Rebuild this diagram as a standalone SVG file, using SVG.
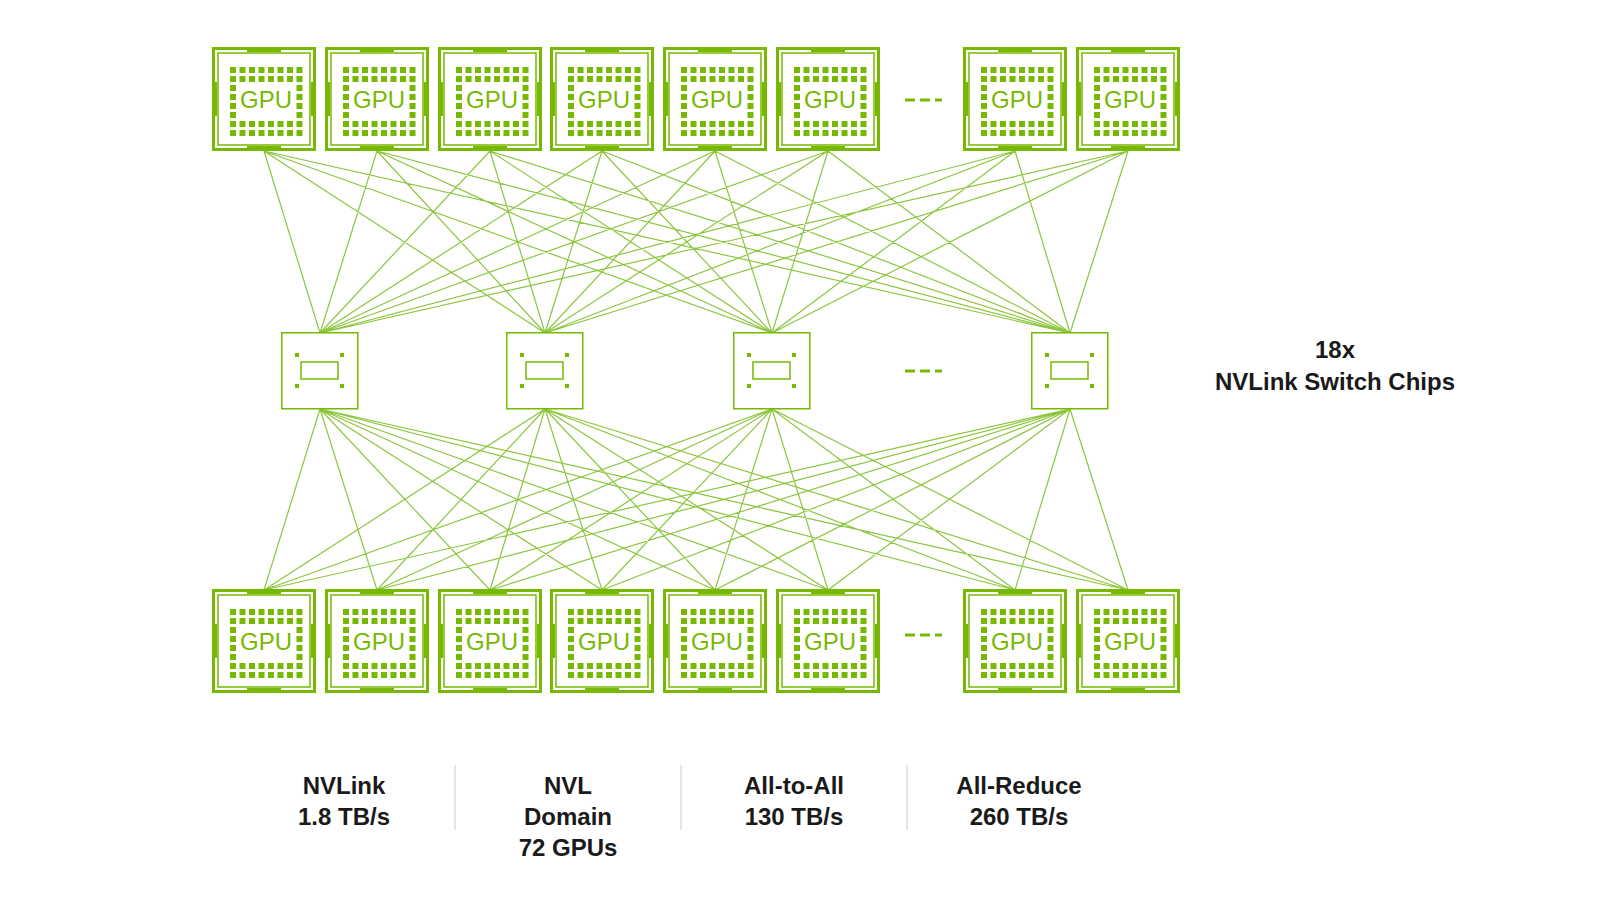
<svg xmlns="http://www.w3.org/2000/svg" xmlns:xlink="http://www.w3.org/1999/xlink" width="1600" height="900" viewBox="0 0 1600 900">
<style>
.ln{stroke:#8cc63f;stroke-width:1.2;fill:none}
.lbl{font-family:"Liberation Sans",Arial,sans-serif;font-weight:bold;font-size:24px;fill:#1a1a1a;text-anchor:middle}
.dash{stroke:#76b900;stroke-width:3;stroke-dasharray:10,5}
.sep{stroke:#cccccc;stroke-width:1}
</style>
<defs>
<g id="gpu">
<rect x="1.5" y="1.5" width="101" height="101" fill="#fff" stroke="#76b900" stroke-width="3"/>
<rect x="6" y="6" width="92" height="92" fill="none" stroke="#76b900" stroke-width="1.5"/>
<rect x="35" y="0" width="34" height="5" fill="#76b900"/>
<rect x="35" y="99" width="34" height="5" fill="#76b900"/>
<rect x="0" y="35" width="5" height="34" fill="#76b900"/>
<rect x="99" y="35" width="5" height="34" fill="#76b900"/>
<g fill="#76b900">
<rect x="18" y="20" width="6" height="6"/><rect x="27.5" y="20" width="6" height="6"/><rect x="37" y="20" width="6" height="6"/><rect x="46.5" y="20" width="6" height="6"/><rect x="56" y="20" width="6" height="6"/><rect x="65.5" y="20" width="6" height="6"/><rect x="75" y="20" width="6" height="6"/><rect x="84.5" y="20" width="6" height="6"/>
<rect x="18" y="29" width="6" height="6"/><rect x="27.5" y="29" width="6" height="6"/><rect x="37" y="29" width="6" height="6"/><rect x="46.5" y="29" width="6" height="6"/><rect x="56" y="29" width="6" height="6"/><rect x="65.5" y="29" width="6" height="6"/><rect x="75" y="29" width="6" height="6"/><rect x="84.5" y="29" width="6" height="6"/>
<rect x="18" y="38" width="6" height="6"/><rect x="84.5" y="38" width="6" height="6"/>
<rect x="18" y="47" width="6" height="6"/><rect x="84.5" y="47" width="6" height="6"/>
<rect x="18" y="56" width="6" height="6"/><rect x="84.5" y="56" width="6" height="6"/>
<rect x="18" y="65" width="6" height="6"/><rect x="84.5" y="65" width="6" height="6"/>
<rect x="18" y="74" width="6" height="6"/><rect x="27.5" y="74" width="6" height="6"/><rect x="37" y="74" width="6" height="6"/><rect x="46.5" y="74" width="6" height="6"/><rect x="56" y="74" width="6" height="6"/><rect x="65.5" y="74" width="6" height="6"/><rect x="75" y="74" width="6" height="6"/><rect x="84.5" y="74" width="6" height="6"/>
<rect x="18" y="83" width="6" height="6"/><rect x="27.5" y="83" width="6" height="6"/><rect x="37" y="83" width="6" height="6"/><rect x="46.5" y="83" width="6" height="6"/><rect x="56" y="83" width="6" height="6"/><rect x="65.5" y="83" width="6" height="6"/><rect x="75" y="83" width="6" height="6"/><rect x="84.5" y="83" width="6" height="6"/>
</g>
<text x="54" y="61" font-family="Liberation Sans,Arial,sans-serif" font-size="24" fill="#76b900" text-anchor="middle">GPU</text>
</g>
<g id="sw">
<rect x="0.75" y="0.75" width="76" height="76" fill="#fff" stroke="#76b900" stroke-width="1.5"/>
<rect x="20" y="30" width="37" height="17" fill="none" stroke="#76b900" stroke-width="1.5"/>
<g fill="#76b900"><rect x="14" y="21" width="4" height="4"/><rect x="59" y="21" width="4" height="4"/><rect x="14" y="52" width="4" height="4"/><rect x="59" y="52" width="4" height="4"/></g>
</g>
</defs>
<g id="connectors">
<path class="ln" d="M264 151L320 333M264 151L545 333M264 151L772 333M264 151L1070 333
M377 151L320 333M377 151L545 333M377 151L772 333M377 151L1070 333
M490 151L320 333M490 151L545 333M490 151L772 333M490 151L1070 333
M602 151L320 333M602 151L545 333M602 151L772 333M602 151L1070 333
M715 151L320 333M715 151L545 333M715 151L772 333M715 151L1070 333
M828 151L320 333M828 151L545 333M828 151L772 333M828 151L1070 333
M1015 151L320 333M1015 151L545 333M1015 151L772 333M1015 151L1070 333
M1128 151L320 333M1128 151L545 333M1128 151L772 333M1128 151L1070 333
M264 590L320 409M264 590L545 409M264 590L772 409M264 590L1070 409
M377 590L320 409M377 590L545 409M377 590L772 409M377 590L1070 409
M490 590L320 409M490 590L545 409M490 590L772 409M490 590L1070 409
M602 590L320 409M602 590L545 409M602 590L772 409M602 590L1070 409
M715 590L320 409M715 590L545 409M715 590L772 409M715 590L1070 409
M828 590L320 409M828 590L545 409M828 590L772 409M828 590L1070 409
M1015 590L320 409M1015 590L545 409M1015 590L772 409M1015 590L1070 409
M1128 590L320 409M1128 590L545 409M1128 590L772 409M1128 590L1070 409"/>
</g>
<g id="gpu-top-1"><use xlink:href="#gpu" x="212" y="47"/></g>
<g id="gpu-top-2"><use xlink:href="#gpu" x="325" y="47"/></g>
<g id="gpu-top-3"><use xlink:href="#gpu" x="438" y="47"/></g>
<g id="gpu-top-4"><use xlink:href="#gpu" x="550" y="47"/></g>
<g id="gpu-top-5"><use xlink:href="#gpu" x="663" y="47"/></g>
<g id="gpu-top-6"><use xlink:href="#gpu" x="776" y="47"/></g>
<g id="gpu-top-7"><use xlink:href="#gpu" x="963" y="47"/></g>
<g id="gpu-top-8"><use xlink:href="#gpu" x="1076" y="47"/></g>
<g id="gpu-bot-1"><use xlink:href="#gpu" x="212" y="589"/></g>
<g id="gpu-bot-2"><use xlink:href="#gpu" x="325" y="589"/></g>
<g id="gpu-bot-3"><use xlink:href="#gpu" x="438" y="589"/></g>
<g id="gpu-bot-4"><use xlink:href="#gpu" x="550" y="589"/></g>
<g id="gpu-bot-5"><use xlink:href="#gpu" x="663" y="589"/></g>
<g id="gpu-bot-6"><use xlink:href="#gpu" x="776" y="589"/></g>
<g id="gpu-bot-7"><use xlink:href="#gpu" x="963" y="589"/></g>
<g id="gpu-bot-8"><use xlink:href="#gpu" x="1076" y="589"/></g>
<g id="switch-1"><use xlink:href="#sw" x="281" y="332"/></g>
<g id="switch-2"><use xlink:href="#sw" x="506" y="332"/></g>
<g id="switch-3"><use xlink:href="#sw" x="733" y="332"/></g>
<g id="switch-4"><use xlink:href="#sw" x="1031" y="332"/></g>
<g id="ellipses">
<line class="dash" x1="905" y1="100" x2="942" y2="100"/>
<line class="dash" x1="905" y1="371" x2="942" y2="371"/>
<line class="dash" x1="905" y1="635" x2="942" y2="635"/>
</g>
<g id="switch-label">
<text class="lbl" x="1335" y="358">18x</text>
<text class="lbl" x="1335" y="390">NVLink Switch Chips</text>
</g>
<g id="stats">
<line class="sep" x1="455" y1="765" x2="455" y2="830"/>
<line class="sep" x1="681" y1="765" x2="681" y2="830"/>
<line class="sep" x1="907" y1="765" x2="907" y2="830"/>
<text class="lbl" x="344" y="794">NVLink</text>
<text class="lbl" x="344" y="825">1.8 TB/s</text>
<text class="lbl" x="568" y="794">NVL</text>
<text class="lbl" x="568" y="825">Domain</text>
<text class="lbl" x="568" y="856">72 GPUs</text>
<text class="lbl" x="794" y="794">All-to-All</text>
<text class="lbl" x="794" y="825">130 TB/s</text>
<text class="lbl" x="1019" y="794">All-Reduce</text>
<text class="lbl" x="1019" y="825">260 TB/s</text>
</g>
</svg>
